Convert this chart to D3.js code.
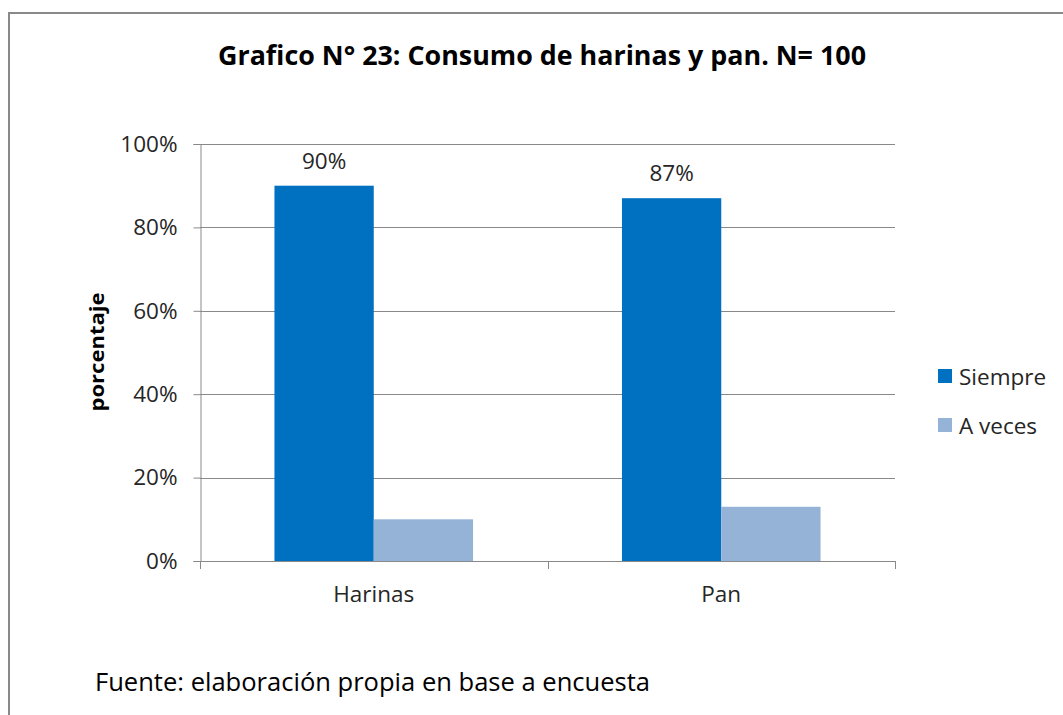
<!DOCTYPE html>
<html><head><meta charset="utf-8">
<script src="https://cdn.jsdelivr.net/npm/d3@7"></script>
<style>html,body{margin:0;padding:0;background:#fff;}svg{display:block;}</style>
</head><body>
<svg id="chart" width="1063" height="715"></svg>
<script>
const categories = ["Harinas", "Pan"];
const seriesNames = ["Siempre", "A veces"];
const siempre = [0.90, 0.87];
const aveces = [0.10, 0.13];
const yTicks = [0, 0.2, 0.4, 0.6, 0.8, 1.0];
const seriesColors = ["#0070C0", "#95B3D7"];
const titleText = "Grafico N° 23: Consumo de harinas y pan. N= 100";
const yLabel = "porcentaje";
const sourceText = "Fuente: elaboración propia en base a encuesta";

(function () {
const values = [siempre, aveces];
const svg = d3.select("#chart");
const font = "'Open Sans', 'DejaVu Sans', sans-serif";

// frame
svg.append("rect").attr("x", 9).attr("y", 13).attr("width", 1100).attr("height", 760)
  .attr("fill", "none").attr("stroke", "#898989").attr("stroke-width", 2);

const pLeft = 200, pRight = 895, pTop = 144, pBottom = 561;
const x0 = d3.scaleBand().domain(categories).range([pLeft, pRight])
  .paddingInner(1.5 / 3.5).paddingOuter(0.75 / 3.5);
const x1 = d3.scaleBand().domain(seriesNames).range([0, x0.bandwidth()]);
const y = d3.scaleLinear().domain([0, 1]).range([pBottom, pTop]);

// gridlines
svg.append("g").selectAll("line").data(yTicks.filter(d => d > 0)).join("line")
  .attr("x1", pLeft).attr("x2", pRight)
  .attr("y1", d => Math.round(y(d)) + 0.5).attr("y2", d => Math.round(y(d)) + 0.5)
  .attr("stroke", "#898989").attr("stroke-width", 1);

// bars
const groups = svg.append("g").selectAll("g").data(categories).join("g")
  .attr("transform", d => `translate(${x0(d)},0)`);
groups.selectAll("rect").data((c, i) => seriesNames.map((s, j) => ({ s, j, v: values[j][i] }))).join("rect")
  .attr("x", d => x1(d.s)).attr("width", x1.bandwidth())
  .attr("y", d => y(d.v)).attr("height", d => y(0) - y(d.v))
  .attr("fill", d => seriesColors[d.j]);

// data labels for Siempre
svg.append("g").selectAll("text").data(categories).join("text")
  .attr("x", c => x0(c) + x1("Siempre") + x1.bandwidth() / 2)
  .attr("y", (c, i) => y(siempre[i]) - 17)
  .attr("text-anchor", "middle").attr("font-family", font).attr("font-size", 22.5)
  .attr("fill", "#262626")
  .text((c, i) => d3.format(".0%")(siempre[i]));

// y axis
const yAxis = d3.axisLeft(y).tickValues(yTicks).tickFormat(d3.format(".0%")).tickSize(7).tickPadding(16);
const gy = svg.append("g").attr("transform", `translate(${pLeft + 0.5},0)`).call(yAxis);
gy.select(".domain").attr("stroke", "#898989");
gy.selectAll(".tick line").attr("stroke", "#898989");
gy.selectAll(".tick text").attr("font-family", font).attr("font-size", 22.5).attr("fill", "#262626");

// x axis
const xAxis = d3.axisBottom(x0).tickSize(0).tickPadding(25);
const gx = svg.append("g").attr("transform", `translate(0,${pBottom + 0.5})`).call(xAxis);
gx.select(".domain").attr("stroke", "#898989").attr("d", `M${pLeft},0H${pRight}`);
gx.selectAll(".tick text").attr("font-family", font).attr("font-size", 22.5).attr("fill", "#262626");
// category separators
const sepX = [pLeft, (x0(categories[0]) + x0.bandwidth() + x0(categories[1])) / 2, pRight];
svg.append("g").selectAll("line").data(sepX).join("line")
  .attr("x1", d => Math.round(d) + 0.5).attr("x2", d => Math.round(d) + 0.5)
  .attr("y1", pBottom).attr("y2", pBottom + 8).attr("stroke", "#898989");

// title
svg.append("text").attr("x", 542).attr("y", 65).attr("text-anchor", "middle")
  .attr("font-family", font).attr("font-weight", "bold").attr("font-size", 26)
  .attr("textLength", 648).attr("lengthAdjust", "spacingAndGlyphs")
  .attr("fill", "#000").text(titleText);

// y label
svg.append("text").attr("transform", "translate(104,352) rotate(-90)").attr("text-anchor", "middle")
  .attr("font-family", font).attr("font-weight", "bold").attr("font-size", 20)
  .attr("textLength", 119).attr("lengthAdjust", "spacingAndGlyphs")
  .attr("fill", "#000").text(yLabel);

// legend
const legend = svg.append("g").selectAll("g").data(seriesNames).join("g")
  .attr("transform", (d, i) => `translate(938,${369 + i * 49})`);
legend.append("rect").attr("width", 14).attr("height", 14).attr("fill", (d, i) => seriesColors[i]);
legend.append("text").attr("x", 21).attr("y", 16)
  .attr("font-family", font).attr("font-size", 22.5).attr("fill", "#262626")
  .text(d => d);

// source
svg.append("text").attr("x", 95).attr("y", 691)
  .attr("font-family", font).attr("font-size", 25)
  .attr("textLength", 555).attr("lengthAdjust", "spacingAndGlyphs")
  .attr("fill", "#000").text(sourceText);
})();
</script>
</body></html>
